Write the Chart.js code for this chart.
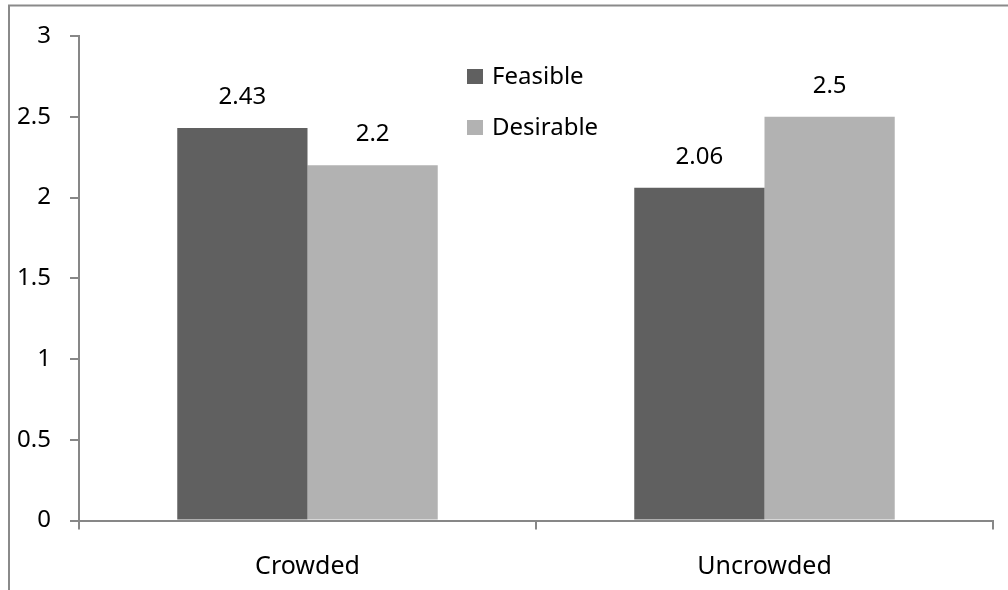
<!DOCTYPE html>
<html>
<head>
<meta charset="utf-8">
<script src="https://cdn.jsdelivr.net/npm/chart.js@4.4.1/dist/chart.umd.min.js"></script>
<style>
  html, body { margin: 0; padding: 0; background: #ffffff; }
  #wrap { width: 1008px; height: 590px; position: relative; }
</style>
</head>
<body>
<div id="wrap"><canvas id="c" width="1008" height="590"></canvas></div>
<script>
// Categories and series
const categories = ["Crowded", "Uncrowded"];
const seriesNames = ["Feasible", "Desirable"];
const feasible = [2.43, 2.06];
const desirable = [2.2, 2.5];
const yTicks = [0, 0.5, 1, 1.5, 2, 2.5, 3];
const yTickLabels = ["0", "0.5", "1", "1.5", "2", "2.5", "3"];

const FONT = '"Noto Sans", "Open Sans", sans-serif';
const AXIS = '#878787';
const COLORS = ['#606060', '#b2b2b2'];

// Outer frame (left and top edges)
const framePlugin = {
  id: 'frame',
  afterDraw(chart) {
    const ctx = chart.ctx;
    ctx.save();
    ctx.strokeStyle = '#8a8a8a';
    ctx.lineWidth = 2;
    ctx.beginPath();
    ctx.moveTo(9, 590);
    ctx.lineTo(9, 5.5);
    ctx.lineTo(1008, 5.5);
    ctx.stroke();
    ctx.restore();
  }
};

// Value labels above each bar
const valueLabels = {
  id: 'valueLabels',
  afterDatasetsDraw(chart) {
    const ctx = chart.ctx;
    ctx.save();
    ctx.font = '24px ' + FONT;
    ctx.fillStyle = '#000';
    ctx.textAlign = 'center';
    ctx.textBaseline = 'middle';
    chart.data.datasets.forEach((ds, i) => {
      chart.getDatasetMeta(i).data.forEach((bar, j) => {
        ctx.fillText(String(ds.data[j]), bar.x, bar.y - 31);
      });
    });
    ctx.restore();
  }
};

// Stacked legend placed inside the plot
const innerLegend = {
  id: 'innerLegend',
  afterDraw(chart) {
    const ctx = chart.ctx;
    const a = chart.chartArea;
    const x0 = a.left + 388;
    const y0 = a.top + 40;
    ctx.save();
    ctx.font = '24px ' + FONT;
    ctx.textAlign = 'left';
    ctx.textBaseline = 'middle';
    chart.data.datasets.forEach((ds, i) => {
      const cy = y0 + i * 51;
      ctx.fillStyle = ds.backgroundColor;
      ctx.fillRect(x0, cy - 7, 16, 15);
      ctx.fillStyle = '#000';
      ctx.fillText(ds.label, x0 + 25, cy + 1);
    });
    ctx.restore();
  }
};

new Chart(document.getElementById('c'), {
  type: 'bar',
  data: {
    labels: categories,
    datasets: [
      { label: seriesNames[0], data: feasible, backgroundColor: COLORS[0] },
      { label: seriesNames[1], data: desirable, backgroundColor: COLORS[1] }
    ]
  },
  options: {
    responsive: false,
    animation: false,
    devicePixelRatio: 1,
    layout: { padding: { left: 0, top: 36, right: 15, bottom: 0 } },
    datasets: { bar: { categoryPercentage: 0.57, barPercentage: 1.0, borderWidth: 0 } },
    plugins: { legend: { display: false }, tooltip: { enabled: false } },
    scales: {
      x: {
        grid: { offset: true, drawOnChartArea: false, tickLength: 9, color: AXIS, lineWidth: 2 },
        border: { color: AXIS, width: 2 },
        ticks: { font: { family: FONT, size: 25 }, color: '#000', padding: 22 },
        afterFit(s) { s.height = 69.5; }
      },
      y: {
        min: 0, max: 3,
        afterBuildTicks(s) { s.ticks = yTicks.map(v => ({ value: v })); },
        grid: { drawOnChartArea: false, tickLength: 9, color: AXIS, lineWidth: 2 },
        border: { color: AXIS, width: 2 },
        ticks: {
          font: { family: FONT, size: 24 }, color: '#000', padding: 19,
          callback: (v) => yTickLabels[yTicks.indexOf(v)]
        },
        afterFit(s) { s.width = 79; }
      }
    }
  },
  plugins: [framePlugin, valueLabels, innerLegend]
});
</script>
</body>
</html>
